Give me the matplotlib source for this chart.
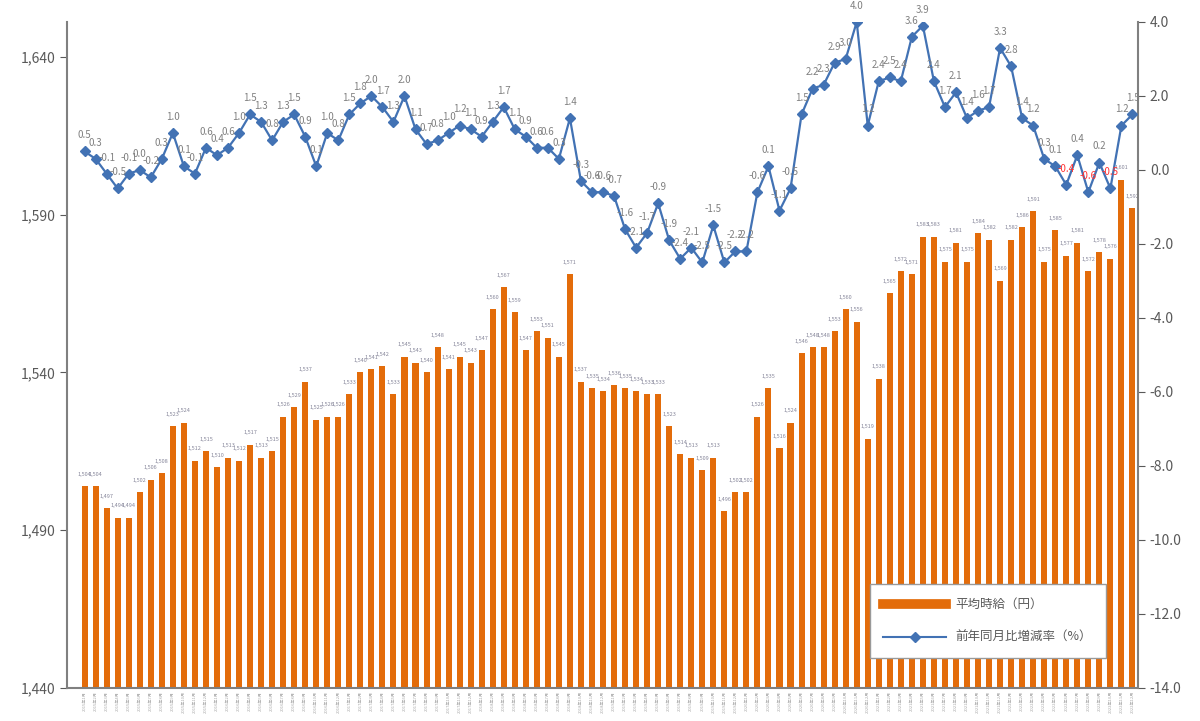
import matplotlib
matplotlib.use('Agg')
import matplotlib.pyplot as plt
from matplotlib.lines import Line2D
from matplotlib.ticker import FuncFormatter

# 日本語フォント
plt.rcParams['font.family'] = ['Noto Sans CJK JP', 'DejaVu Sans']
plt.rcParams['axes.unicode_minus'] = False

# 平均時給（円）
wages = [1504, 1504, 1497, 1494, 1494, 1502, 1506, 1508, 1523, 1524,
         1512, 1515, 1510, 1513, 1512, 1517, 1513, 1515, 1526, 1529,
         1537, 1525, 1526, 1526, 1533, 1540, 1541, 1542, 1533, 1545,
         1543, 1540, 1548, 1541, 1545, 1543, 1547, 1560, 1567, 1559,
         1547, 1553, 1551, 1545, 1571, 1537, 1535, 1534, 1536, 1535,
         1534, 1533, 1533, 1523, 1514, 1513, 1509, 1513, 1496, 1502,
         1502, 1526, 1535, 1516, 1524, 1546, 1548, 1548, 1553, 1560,
         1556, 1519, 1538, 1565, 1572, 1571, 1583, 1583, 1575, 1581,
         1575, 1584, 1582, 1569, 1582, 1586, 1591, 1575, 1585, 1577,
         1581, 1572, 1578, 1576, 1601, 1592]

# 前年同月比増減率（%）
yoy = [0.5, 0.3, -0.1, -0.5, -0.1, 0.0, -0.2, 0.3, 1.0, 0.1,
       -0.1, 0.6, 0.4, 0.6, 1.0, 1.5, 1.3, 0.8, 1.3, 1.5,
       0.9, 0.1, 1.0, 0.8, 1.5, 1.8, 2.0, 1.7, 1.3, 2.0,
       1.1, 0.7, 0.8, 1.0, 1.2, 1.1, 0.9, 1.3, 1.7, 1.1,
       0.9, 0.6, 0.6, 0.3, 1.4, -0.3, -0.6, -0.6, -0.7, -1.6,
       -2.1, -1.7, -0.9, -1.9, -2.4, -2.1, -2.5, -1.5, -2.5, -2.2,
       -2.2, -0.6, 0.1, -1.1, -0.5, 1.5, 2.2, 2.3, 2.9, 3.0,
       4.0, 1.2, 2.4, 2.5, 2.4, 3.6, 3.9, 2.4, 1.7, 2.1,
       1.4, 1.6, 1.7, 3.3, 2.8, 1.4, 1.2, 0.3, 0.1, -0.4,
       0.4, -0.6, 0.2, -0.5, 1.2, 1.5]

# 月ラベル（8年分）
years = [2015, 2016, 2017, 2018, 2019, 2020, 2021, 2022]
months = [f'{y}年{m}月' for y in years for m in range(1, 13)]

# 赤字で表示する最近のマイナス
red_idx = [89, 91, 93]

orange = '#E36C0A'
blue = '#4272B4'
gray = '#595959'

fig = plt.figure(figsize=(12, 7.21), dpi=100)
ax = fig.add_axes([0.0558, 0.0458, 0.8925, 0.9237])
x = list(range(len(wages)))

ax.bar(x, [w - 1440 for w in wages], bottom=1440, width=0.55, color=orange, zorder=2)
for i, w in enumerate(wages):
    ax.text(i, w + 3, f'{w:,}', fontsize=4, color='#86869a', ha='center', va='bottom')

ax.set_ylim(1440, 1651)
ax.set_yticks([1440, 1490, 1540, 1590, 1640])
ax.yaxis.set_major_formatter(FuncFormatter(lambda v, p: f'{int(v):,}'))
ax.set_xlim(-1.6, 95.5)
ax.set_xticks(x)
ax.set_xticklabels(months, rotation=90, fontsize=3, color='#aaaaaa')
ax.tick_params(axis='x', length=0, pad=2)
ax.tick_params(axis='y', labelsize=10, colors=gray, length=5, direction='out')
for s in ['top', 'right']:
    ax.spines[s].set_visible(False)
for s in ['left', 'bottom']:
    ax.spines[s].set_color('#808080')
    ax.spines[s].set_linewidth(1.5)

ax2 = ax.twinx()
ax2.plot(x, yoy, color=blue, lw=1.6, marker='D', markersize=5, zorder=3)
for i, v in enumerate(yoy):
    c = '#FF3333' if i in red_idx else '#808080'
    ax2.text(i, v + 0.3, f'{v:.1f}', fontsize=7, color=c, ha='center', va='bottom')
ax2.set_ylim(-14, 4)
ax2.set_yticks([4, 2, 0, -2, -4, -6, -8, -10, -12, -14])
ax2.yaxis.set_major_formatter(FuncFormatter(lambda v, p: f'{v:.1f}'))
ax2.tick_params(axis='y', labelsize=10, colors=gray, length=5, direction='out')
for s in ['top', 'left', 'bottom']:
    ax2.spines[s].set_visible(False)
ax2.spines['right'].set_color('#808080')
ax2.spines['right'].set_linewidth(1.5)

handles = [Line2D([0], [0], color=orange, lw=7),
           Line2D([0], [0], color=blue, lw=1.5, marker='D', markersize=5)]
leg = ax2.legend(handles, ['平均時給（円）', '前年同月比増減率（%）'],
                 loc='lower right', bbox_to_anchor=(0.976, 0.036),
                 fontsize=9, handlelength=5, labelspacing=1.6,
                 borderpad=1.1, fancybox=False, framealpha=1,
                 edgecolor='#999999', labelcolor=gray)
leg.set_zorder(10)

fig.savefig('out.png', dpi=100)
